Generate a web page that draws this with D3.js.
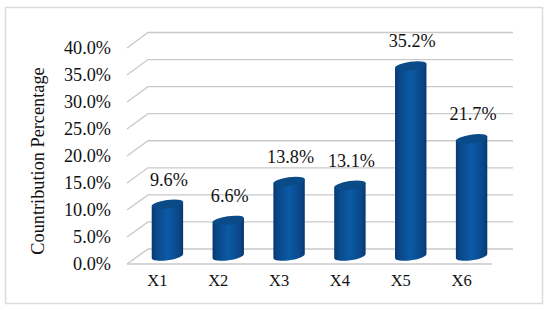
<!DOCTYPE html>
<html><head><meta charset="utf-8">
<script src="https://cdnjs.cloudflare.com/ajax/libs/d3/7.8.5/d3.min.js"></script>
<style>html,body{margin:0;padding:0;background:#fff}svg{display:block}text{font-family:"Liberation Serif",serif;fill:#111}</style>
</head><body><svg id="c" width="550" height="310"></svg>
<script>
const categories=["X1","X2","X3","X4","X5","X6"];
const values=[9.6,6.6,13.8,13.1,35.2,21.7];
const valueLabels=["9.6%","6.6%","13.8%","13.1%","35.2%","21.7%"];
const ticks=[0,5,10,15,20,25,30,35,40];
const axisTitle="Countribution Percentage";

const svg=d3.select("#c");
const defs=svg.append("defs");
const g=defs.append("linearGradient").attr("id","cyl").attr("x1",0).attr("x2",1).attr("y1",0).attr("y2",0);
[[0,"#07376f"],[.12,"#0a4686"],[.5,"#0b5aa6"],[.88,"#0a4686"],[1,"#07376f"]].forEach(s=>g.append("stop").attr("offset",s[0]).attr("stop-color",s[1]));

svg.append("rect").attr("x",5.5).attr("y",7.5).attr("width",537).attr("height",296).attr("fill","#fff").attr("stroke","#dcdcdc").attr("stroke-width",1.5);

const x=d3.scaleBand().domain(categories).range([137,502]).paddingInner(0).paddingOuter(0);
const yBack=d3.scaleLinear().domain([0,40]).range([249,32.5]);
const yFront=d3.scaleLinear().domain([0,40]).range([264,48]);
const yBar=d3.scaleLinear().domain([0,40]).range([256,40]);
const gridC="#c9c9c9";
const xF0=127,xB0=148,xB1=513,xF1=492;

svg.selectAll("path.grid").data(ticks).join("path").attr("class","grid")
 .attr("d",t=>`M${xF0},${yFront(t)}L${xB0},${yBack(t)}L${xB1},${yBack(t)}`)
 .attr("fill","none").attr("stroke",gridC).attr("stroke-width",1.3);
svg.append("path").attr("d",`M${xF0},${yFront(0)}L${xF1},${yFront(0)}`).attr("stroke",gridC).attr("stroke-width",1.3);

svg.selectAll("text.tick").data(ticks).join("text").attr("class","tick")
 .attr("x",111).attr("y",t=>yFront(t)+6).attr("text-anchor","end").attr("font-size",18.2)
 .text(t=>d3.format(".1f")(t)+"%");

svg.selectAll("text.cat").data(categories).join("text").attr("class","cat")
 .attr("x",d=>x(d)+x.bandwidth()/2-10).attr("y",286).attr("text-anchor","middle").attr("font-size",16.5).text(d=>d);

const rx=15.7,ry=4.2,slant=2.2;
const bars=svg.selectAll("g.bar").data(categories).join("g").attr("class","bar");
bars.each(function(d,i){
  const s=d3.select(this),cx=x(d)+x.bandwidth()/2,yb=yBar(0),yt=yBar(values[i]);
  s.append("path")
   .attr("d",`M${cx-rx},${yt+slant}L${cx-rx},${yb+slant}A${rx},${ry} -8 0 0 ${cx+rx},${yb-slant}L${cx+rx},${yt-slant}Z`)
   .attr("fill","url(#cyl)");
  s.append("ellipse").attr("cx",cx).attr("cy",yt).attr("rx",rx+.2).attr("ry",ry)
   .attr("transform",`rotate(-8 ${cx} ${yt})`).attr("fill","#0a4a86");
});

svg.selectAll("text.val").data(valueLabels).join("text").attr("class","val")
 .attr("x",(d,i)=>x(categories[i])+x.bandwidth()/2+1.5)
 .attr("y",(d,i)=>yBar(values[i])-18.5).attr("text-anchor","middle").attr("font-size",18.2).text(d=>d);

svg.append("text").attr("transform","translate(43.5,161) rotate(-90)").attr("text-anchor","middle").attr("font-size",18.3).text(axisTitle);
</script></body></html>
